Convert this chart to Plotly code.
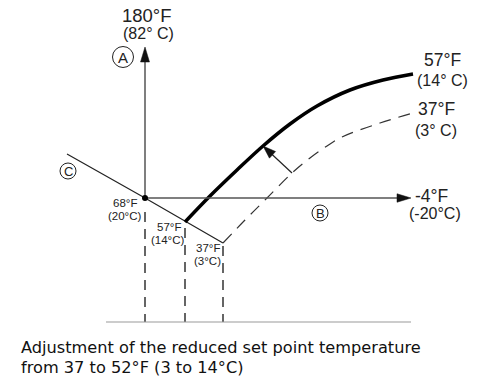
import math
import plotly.graph_objects as go

# Diagram coordinates (drawing units, y grows downward)
origin = (145, 198)
axis_a_top = 47
axis_b_right = 411

line_c_x = [67, 145, 223]
line_c_y = [154, 198, 243]

curve_57_x = [185, 210, 237, 263, 290, 317, 350, 383, 413]
curve_57_y = [222, 196, 170, 146, 124, 106, 90, 80, 74]

curve_37_x = [223, 245, 267, 292, 310, 327, 342, 380, 413]
curve_37_y = [243, 220, 198, 173, 158, 146, 137, 123, 113]

adjust_tail = (292, 173)
adjust_tip = (263, 146)

drop_x = [145, 185, 223]
drop_top = [212, 228, 246]
baseline_y = 322
base_x = [106, 411]

FONT = "Liberation Sans, Arial, sans-serif"
DARK = "#222222"
GRAY = "#555555"

fig = go.Figure()
shapes = []
annotations = []


def arrow(tail, tip, length, width, color, lw, head_color):
    dx, dy = tip[0] - tail[0], tip[1] - tail[1]
    d = math.hypot(dx, dy)
    ux, uy = dx / d, dy / d
    bx, by = tip[0] - ux * length, tip[1] - uy * length
    fig.add_trace(go.Scatter(x=[tail[0], bx + ux * 2], y=[tail[1], by + uy * 2], mode="lines",
                             line=dict(color=color, width=lw), hoverinfo="skip"))
    px, py = -uy * width / 2, ux * width / 2
    shapes.append(dict(type="path", xref="x", yref="y",
                       path=f"M{tip[0]},{tip[1]} L{bx + px},{by + py} L{bx - px},{by - py} Z",
                       fillcolor=head_color, line=dict(color=head_color, width=0.5)))


# line C
fig.add_trace(go.Scatter(x=line_c_x, y=line_c_y, mode="lines",
                         line=dict(color=DARK, width=1.2), hoverinfo="skip"))
# vertical dashed drop lines
for xv, yt in zip(drop_x, drop_top):
    fig.add_trace(go.Scatter(x=[xv, xv], y=[yt, baseline_y], mode="lines",
                             line=dict(color="#333333", width=1.5, dash="10px,7px"),
                             hoverinfo="skip"))
# baseline
fig.add_trace(go.Scatter(x=base_x, y=[baseline_y, baseline_y], mode="lines",
                         line=dict(color="#999999", width=1), hoverinfo="skip"))
# dashed 37F curve
fig.add_trace(go.Scatter(x=curve_37_x, y=curve_37_y, mode="lines",
                         line=dict(color="#333333", width=1.2, dash="12px,8px", shape="spline",
                                   smoothing=1.0),
                         hoverinfo="skip"))
# thick 57F curve
fig.add_trace(go.Scatter(x=curve_57_x, y=curve_57_y, mode="lines",
                         line=dict(color="black", width=3.5, shape="spline", smoothing=1.0),
                         hoverinfo="skip"))

# axes A and B, adjustment arrow
arrow(origin, (origin[0], axis_a_top), 15, 9, GRAY, 1.5, "#111111")
arrow(origin, (axis_b_right, origin[1]), 14, 8.5, GRAY, 1.5, "#111111")
arrow(adjust_tail, adjust_tip, 13, 9, DARK, 1.2, "#111111")

# origin dot
fig.add_trace(go.Scatter(x=[origin[0]], y=[origin[1]], mode="markers",
                         marker=dict(color="black", size=6), hoverinfo="skip"))


def label(x, y, text, size, anchor="center", family=FONT):
    annotations.append(dict(x=x, y=y, xref="x", yref="y", text=text, showarrow=False,
                            font=dict(family=family, size=size, color=DARK),
                            xanchor=anchor, yanchor="middle"))


label(147, 15, "180°F", 18.5)
label(148, 33, "(82° C)", 16)
label(442, 60, "57°F", 17.5)
label(442, 80, "(14° C)", 16)
label(436, 109, "37°F", 17.5)
label(436, 130, "(3° C)", 16)
label(431, 196, "-4°F", 17.5)
label(435, 213, "(-20°C)", 16)
label(125, 203, "68°F", 11.5)
label(125, 216, "(20°C)", 11.5)
label(169, 227, "57°F", 11.5)
label(168, 240, "(14°C)", 11.5)
label(208, 248, "37°F", 11.5)
label(207, 261, "(3°C)", 11.5)

# circled letters
circles = [(123, 57, 10.5, "A", 15), (320, 213, 8, "B", 13), (68, 171, 8, "C", 13)]
for cx, cy, r, t, fs in circles:
    shapes.append(dict(type="circle", xref="x", yref="y", x0=cx - r, x1=cx + r,
                       y0=cy - r, y1=cy + r, line=dict(color=DARK, width=1)))
    label(cx, cy + 0.5, t, fs)

# caption
CAP_FONT = "DejaVu Sans, Verdana, sans-serif"
annotations.append(dict(x=19, y=347, xref="x", yref="y", showarrow=False,
                        text="Adjustment of the reduced set point temperature",
                        font=dict(family=CAP_FONT, size=16.2, color="#111111"),
                        xanchor="left", yanchor="middle"))
annotations.append(dict(x=19, y=367, xref="x", yref="y", showarrow=False,
                        text="from 37 to 52°F (3 to 14°C)",
                        font=dict(family=CAP_FONT, size=16.2, color="#111111"),
                        xanchor="left", yanchor="middle"))

fig.update_layout(
    width=489, height=384, margin=dict(l=0, r=0, t=0, b=0),
    paper_bgcolor="white", plot_bgcolor="white", showlegend=False,
    xaxis=dict(range=[0, 489], visible=False, fixedrange=True),
    yaxis=dict(range=[384, 0], visible=False, fixedrange=True),
    annotations=annotations, shapes=shapes,
)

fig.write_html("out.html", config={"displayModeBar": False})
